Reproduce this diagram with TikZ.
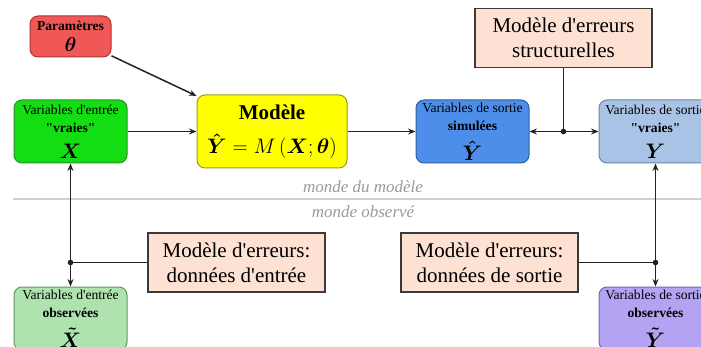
\RequirePackage{fix-cm}
\documentclass[tikz,border=0pt]{standalone}
\usepackage[no-math]{fontspec}
\setmainfont{Liberation Serif}[Ligatures=TeXOff]
\usepackage{amsmath}
\usetikzlibrary{arrows.meta}
\definecolor{lc}{HTML}{222222}
\definecolor{parfill}{HTML}{F05757}
\definecolor{pardraw}{HTML}{A83434}
\definecolor{grfill}{HTML}{12DE12}
\definecolor{grdraw}{HTML}{2E8B2E}
\definecolor{yefill}{HTML}{FFFF00}
\definecolor{yedraw}{HTML}{9A9A20}
\definecolor{bufill}{HTML}{4C8EEA}
\definecolor{budraw}{HTML}{2D5E9E}
\definecolor{lbfill}{HTML}{A9C3E6}
\definecolor{lbdraw}{HTML}{6B85A6}
\definecolor{pefill}{HTML}{FDE1D2}
\definecolor{pedraw}{HTML}{3A3A3A}
\definecolor{lgfill}{HTML}{AEE2AE}
\definecolor{lgdraw}{HTML}{5E9A5E}
\definecolor{lvfill}{HTML}{B3A3F2}
\definecolor{lvdraw}{HTML}{7565B8}
\definecolor{sepc}{HTML}{D0D0D0}
\definecolor{worldtxt}{HTML}{9A9A9A}
\tikzset{
  rbox/.style={draw, rounded corners=8pt, line width=1pt, inner sep=0pt, align=center,
    font=\fontsize{13.6}{17}\selectfont},
  varbox/.style={rbox, minimum width=113pt, minimum height=63pt},
  errbox/.style={draw=pedraw, fill=pefill, line width=1.3pt, inner sep=0pt, align=center,
    minimum width=177pt, minimum height=59pt, font=\fontsize{21}{25}\selectfont},
  conn/.style={draw=lc, line width=1.5pt},
  arr/.style={conn, -{Stealth[length=7.5pt,width=6pt]}},
  worldlbl/.style={text=worldtxt, font=\fontsize{17}{20}\selectfont\itshape, inner sep=0pt},
}
\newcommand{\mybigmath}[1]{{\fontsize{21}{21}\selectfont$#1$}}
\begin{document}
\begin{tikzpicture}[x=1pt,y=-1pt]
\useasboundingbox (0,0) rectangle (701,347);
\clip (0,0) rectangle (701,347);
% world separator
\draw[sepc, line width=1.5pt] (13,199) -- (701,199);
\node[worldlbl] (mm) at (363,187) {monde du modèle};
\node[worldlbl] (mo) at (363,212) {monde observé};
% boxes
\node[rbox, fill=parfill, draw=pardraw, minimum width=81pt, minimum height=41pt] (param) at (70.5,36.5)
  {\textbf{Paramètres}\\[4pt]{\fontsize{20}{20}\selectfont$\boldsymbol{\theta}$}};
\node[varbox, fill=grfill, draw=grdraw] (xtrue) at (70.5,131.5)
  {Variables d'entrée\\[1pt]\textbf{"vraies"}\\[9pt]\mybigmath{\boldsymbol{X}}};
\node[rbox, fill=yefill, draw=yedraw, minimum width=150pt, minimum height=73pt] (model) at (272,131.5)
  {{\fontsize{21}{24}\selectfont\textbf{Modèle}}\\[13pt]\mybigmath{\boldsymbol{\hat{Y}}=M\left(\boldsymbol{X};\boldsymbol{\theta}\right)}};
\node[varbox, fill=bufill, draw=budraw] (ysim) at (472.5,131.5)
  {Variables de sortie\\[1pt]\textbf{simulées}\\[9pt]\mybigmath{\boldsymbol{\hat{Y}}}};
\node[varbox, fill=lbfill, draw=lbdraw] (ytrue) at (655.5,131.5)
  {Variables de sortie\\[1pt]\textbf{"vraies"}\\[9pt]\mybigmath{\boldsymbol{Y}}};
\node[errbox] (errstruct) at (563.5,38) {Modèle d'erreurs\\structurelles};
\node[errbox] (errin) at (236.5,262.5) {Modèle d'erreurs:\\données d'entrée};
\node[errbox] (errout) at (489.5,262.5) {Modèle d'erreurs:\\données de sortie};
\node[varbox, fill=lgfill, draw=lgdraw] (xobs) at (70.5,318.5)
  {Variables d'entrée\\[1pt]\textbf{observées}\\[9pt]\mybigmath{\boldsymbol{\tilde{X}}}};
\node[varbox, fill=lvfill, draw=lvdraw] (yobs) at (655.5,318.5)
  {Variables de sortie\\[1pt]\textbf{observées}\\[9pt]\mybigmath{\boldsymbol{\tilde{Y}}}};
% junctions
\coordinate (j1) at (errstruct.south |- ysim.east);
\coordinate (j2) at (xtrue.south |- errin.west);
\coordinate (j3) at (ytrue.south |- errout.east);
% connectors
\draw[arr] (param) -- (model);
\draw[arr] (xtrue) -- (model);
\draw[arr] (model) -- (ysim);
\draw[conn] (errstruct.south) -- (j1);
\draw[arr] (j1) -- (ysim.east);
\draw[arr] (j1) -- (ytrue.west);
\draw[conn] (errin.west) -- (j2);
\draw[arr] (j2) -- (xtrue.south);
\draw[arr] (j2) -- (xobs.north);
\draw[conn] (errout.east) -- (j3);
\draw[arr] (j3) -- (ytrue.south);
\draw[arr] (j3) -- (yobs.north);
\fill[lc] (j1) circle (2.8pt);
\fill[lc] (j2) circle (2.8pt);
\fill[lc] (j3) circle (2.8pt);
\end{tikzpicture}
\end{document}
